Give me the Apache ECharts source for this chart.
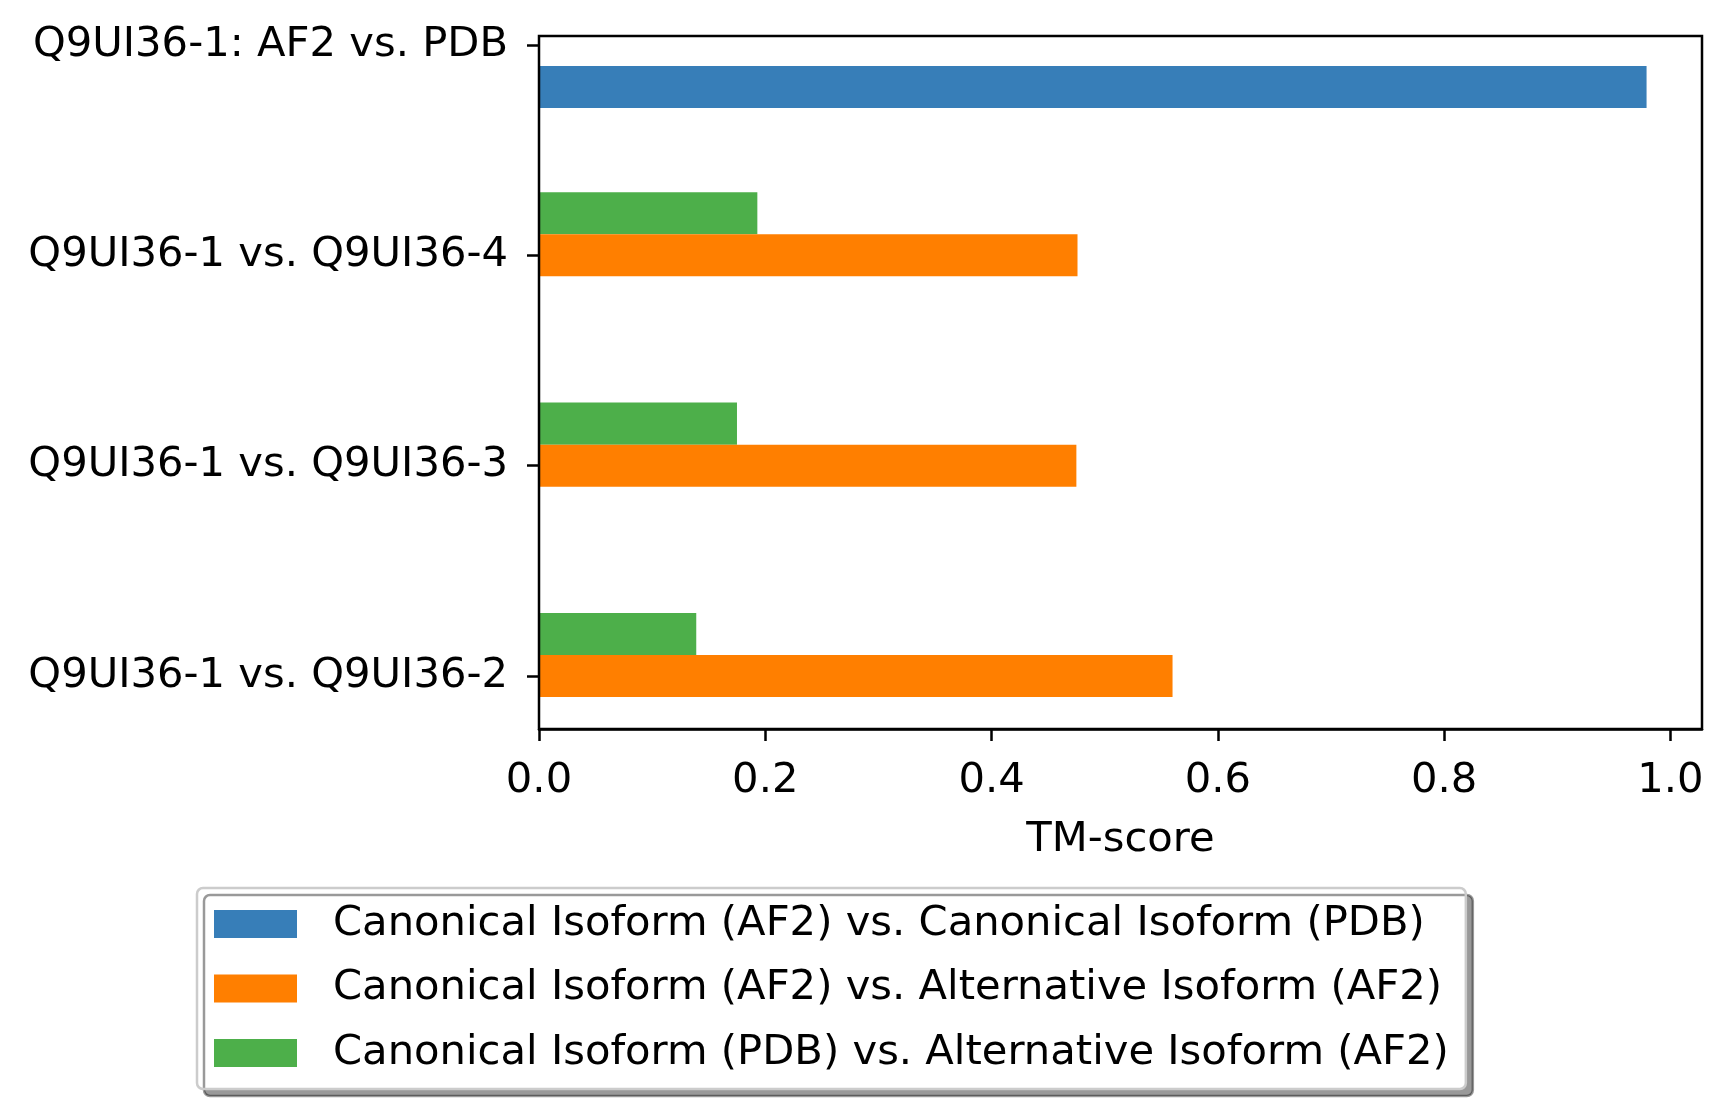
<!DOCTYPE html>
<html>
<head>
<meta charset="utf-8">
<script src="https://cdn.jsdelivr.net/npm/echarts@6/dist/echarts.min.js"></script>
<style>
html,body{margin:0;padding:0;background:#fff;}
#c{width:1732px;height:1119px;}
</style>
</head>
<body>
<div id="c"></div>
<script>
const categories = ['Q9UI36-1 vs. Q9UI36-2', 'Q9UI36-1 vs. Q9UI36-3', 'Q9UI36-1 vs. Q9UI36-4', 'Q9UI36-1: AF2 vs. PDB'];
const seriesNames = [
  'Canonical Isoform (AF2) vs. Canonical Isoform (PDB)',
  'Canonical Isoform (AF2) vs. Alternative Isoform (AF2)',
  'Canonical Isoform (PDB) vs. Alternative Isoform (AF2)'
];
const canonAF2vsCanonPDB = [null, null, null, 0.979];
const canonAF2vsAltAF2 = [0.560, 0.475, 0.476, null];
const canonPDBvsAltAF2 = [0.139, 0.175, 0.193, null];
const xTicks = [0, 0.2, 0.4, 0.6, 0.8, 1.0];
const xMax = 1.028;

const FONT = 'DejaVu Sans';
const FS = 41.7;
const chart = echarts.init(document.getElementById('c'), null, {renderer: 'canvas'});
const barCommon = {type: 'bar', xAxisIndex: 1, yAxisIndex: 1, barGap: '0%', barCategoryGap: '40%'};
chart.setOption({
  animation: false,
  backgroundColor: '#fff',
  textStyle: {fontFamily: FONT},
  grid: [
    {left: 539, right: 30, top: 36, bottom: 390, show: true, borderColor: '#000', borderWidth: 2.5, backgroundColor: 'transparent', z: 5, outerBoundsMode: 'none', containLabel: false},
    {left: 539, right: 30, top: -60.15, bottom: 337.85, show: false, outerBoundsMode: 'none', containLabel: false}
  ],
  xAxis: [
    {
      type: 'value', gridIndex: 0, min: 0, max: xMax,
      name: 'TM-score', nameLocation: 'middle', nameGap: 90,
      nameTextStyle: {fontSize: FS, color: '#000', fontFamily: FONT},
      axisLine: {show: true, lineStyle: {color: '#000', width: 2.5}},
      axisTick: {show: true, length: 12, lineStyle: {color: '#000', width: 2.5}, customValues: xTicks},
      axisLabel: {fontSize: FS, color: '#000', margin: 31, fontFamily: FONT, customValues: xTicks, formatter: v => v.toFixed(1)},
      splitLine: {show: false}
    },
    {type: 'value', gridIndex: 1, min: 0, max: xMax, show: false}
  ],
  yAxis: [
    {type: 'value', gridIndex: 0, min: 0, max: 1, show: false},
    {
      type: 'category', gridIndex: 1, data: categories,
      axisLine: {show: false},
      axisTick: {show: true, length: 12, alignWithLabel: true, lineStyle: {color: '#000', width: 2.5}},
      axisLabel: {fontSize: FS, color: '#000', margin: 31, fontFamily: FONT},
      splitLine: {show: false}
    }
  ],
  legend: {
    data: seriesNames,
    orient: 'vertical',
    left: 197, top: 888,
    padding: [15, 17, 15, 17],
    itemWidth: 83, itemHeight: 28, itemGap: 22.5,
    icon: 'rect',
    backgroundColor: '#fff',
    borderColor: '#cccccc', borderWidth: 2.5, borderRadius: 6,
    shadowColor: 'rgba(0,0,0,0.4)', shadowBlur: 0, shadowOffsetX: 7, shadowOffsetY: 7,
    textStyle: {fontSize: FS, color: '#000', fontFamily: FONT, lineHeight: 40, padding: [0, 0, 0, 31]}
  },
  series: [
    Object.assign({name: seriesNames[2], data: canonPDBvsAltAF2, itemStyle: {color: '#4daf4a'}}, barCommon),
    Object.assign({name: seriesNames[1], data: canonAF2vsAltAF2, itemStyle: {color: '#ff7f00'}}, barCommon),
    Object.assign({name: seriesNames[0], data: canonAF2vsCanonPDB, itemStyle: {color: '#377eb8'}}, barCommon)
  ]
});
</script>
</body>
</html>
